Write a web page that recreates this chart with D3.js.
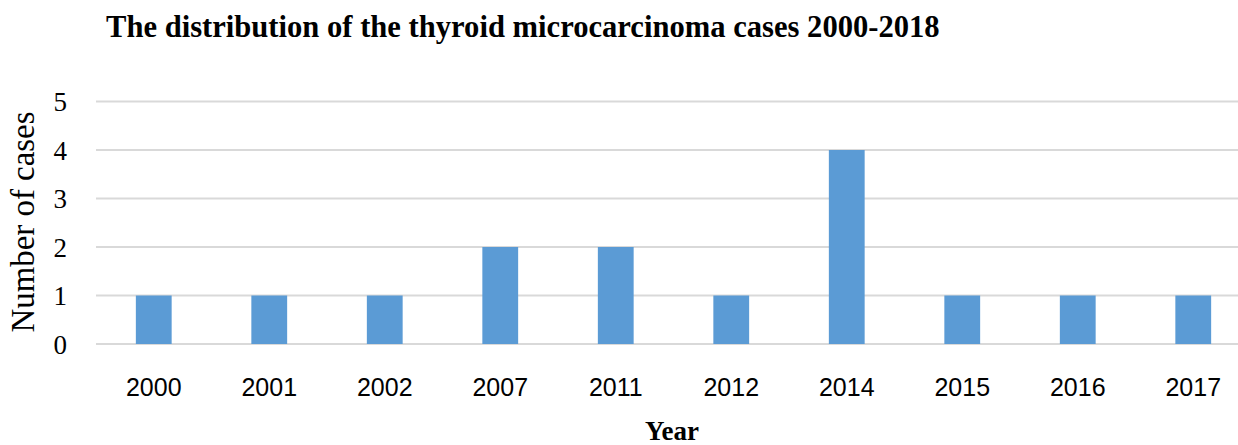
<!DOCTYPE html>
<html>
<head>
<meta charset="utf-8">
<script src="https://cdn.jsdelivr.net/npm/d3@7"></script>
<style>
  body { margin: 0; background: #fff; }
  svg { display: block; }
</style>
</head>
<body>
<div id="chart"></div>
<script>
// data
var years = ["2000", "2001", "2002", "2007", "2011", "2012", "2014", "2015", "2016", "2017"];
var cases = [1, 1, 1, 2, 2, 1, 4, 1, 1, 1];
var yTicks = [0, 1, 2, 3, 4, 5];

var chart_width = 1238;
var chart_height = 445;

var svg = d3.select('#chart')
  .append('svg')
  .attr('width', chart_width)
  .attr('height', chart_height);

// scales
var x_scale = d3.scaleBand()
  .domain(years)
  .range([96, 1251])
  .paddingInner(0.69)
  .paddingOuter(0.345);

var y_scale = d3.scaleLinear()
  .domain([0, 5])
  .range([344, 101.5]);

// gridlines
svg.append('g')
  .selectAll('line')
  .data(yTicks)
  .enter()
  .append('line')
  .attr('x1', 96)
  .attr('x2', 1251)
  .attr('y1', function(d){ return y_scale(d); })
  .attr('y2', function(d){ return y_scale(d); })
  .attr('stroke', '#d9d9d9')
  .attr('stroke-width', 2.2);

// bars
svg.append('g')
  .selectAll('rect')
  .data(cases)
  .enter()
  .append('rect')
  .attr('x', function(d, i){ return x_scale(years[i]); })
  .attr('y', function(d){ return y_scale(d); })
  .attr('width', x_scale.bandwidth())
  .attr('height', function(d){ return y_scale(0) - y_scale(d); })
  .attr('fill', '#5b9bd5');

// y axis
var yAxis = d3.axisLeft(y_scale)
  .tickValues(yTicks)
  .tickFormat(d3.format('d'))
  .tickSize(0)
  .tickPadding(0);

var yg = svg.append('g')
  .attr('transform', 'translate(67,0)')
  .call(yAxis);
yg.select('.domain').remove();
yg.selectAll('text')
  .attr('font-family', '"Liberation Serif", serif')
  .attr('font-size', 27)
  .attr('fill', '#000')
  .attr('dy', '0.34em');

// x axis
var xAxis = d3.axisBottom(x_scale)
  .tickSize(0)
  .tickPadding(0);

var xg = svg.append('g')
  .attr('transform', 'translate(0,376)')
  .call(xAxis);
xg.select('.domain').remove();
xg.selectAll('text')
  .attr('font-family', '"Liberation Sans", Arial, sans-serif')
  .attr('font-size', 25)
  .attr('fill', '#000')
  .attr('dy', '0.8em');

// fit text to a width
function fit(sel, w) {
  var len = sel.node().getComputedTextLength();
  var fs = parseFloat(sel.attr('font-size'));
  sel.attr('font-size', fs * w / len);
}

// title
var title = svg.append('text')
  .attr('x', 106)
  .attr('y', 37)
  .attr('font-family', '"Liberation Serif", serif')
  .attr('font-weight', 'bold')
  .attr('font-size', 26)
  .attr('fill', '#000')
  .text('The distribution of the thyroid microcarcinoma cases 2000-2018');
fit(title, 834);

// y label
var ylab = svg.append('text')
  .attr('transform', 'translate(34,222) rotate(-90)')
  .attr('text-anchor', 'middle')
  .attr('font-family', '"Liberation Serif", serif')
  .attr('font-size', 28)
  .attr('fill', '#000')
  .text('Number of cases');
fit(ylab, 221);

// x label
svg.append('text')
  .attr('x', 672)
  .attr('y', 440)
  .attr('text-anchor', 'middle')
  .attr('font-family', '"Liberation Serif", serif')
  .attr('font-weight', 'bold')
  .attr('font-size', 27)
  .attr('fill', '#000')
  .text('Year');
</script>
</body>
</html>
